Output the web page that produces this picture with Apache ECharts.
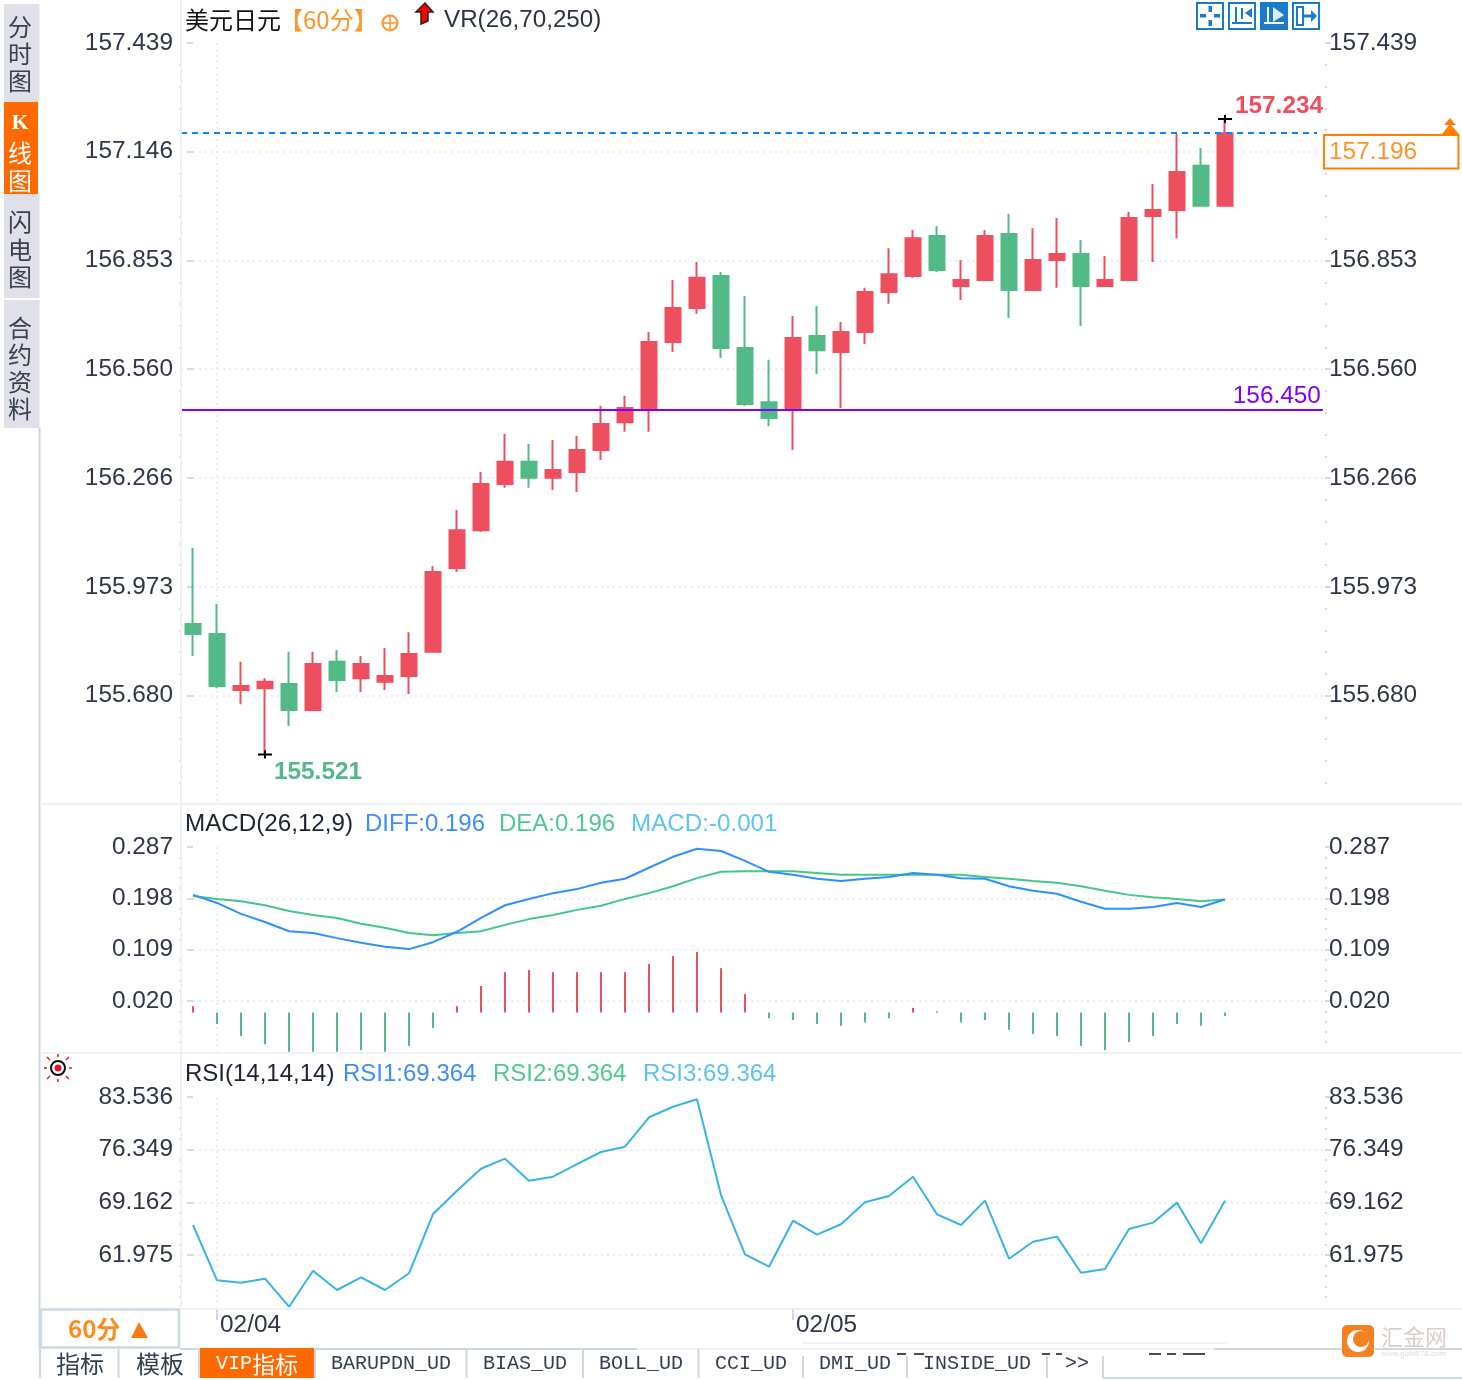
<!DOCTYPE html>
<html>
<head>
<meta charset="utf-8">
<title>美元日元 60分</title>
<style>
    html, body { margin: 0; padding: 0; background: #fff; }
    #main { width: 1462px; height: 1380px; }
</style>
<script src="https://cdn.jsdelivr.net/npm/echarts@6/dist/echarts.min.js"></script>
</head>
<body>
<div id="main"></div>
<script>
// K line, one row per hour
var opens = [155.873, 155.846, 155.695, 155.700, 155.711, 155.641, 155.771, 155.727, 155.717, 155.733, 155.798,
    156.024, 156.126, 156.250, 156.310, 156.267, 156.283, 156.342, 156.417, 156.455, 156.633, 156.725,
    156.811, 156.617, 156.471, 156.450, 156.649, 156.606, 156.660, 156.768, 156.811, 156.919, 156.784,
    156.800, 156.924, 156.773, 156.854, 156.870, 156.784, 156.800, 156.973, 156.989, 157.108, 157.000];
var closes = [155.846, 155.706, 155.706, 155.717, 155.641, 155.765, 155.722, 155.765, 155.733, 155.792, 156.013,
    156.126, 156.250, 156.310, 156.267, 156.288, 156.342, 156.412, 156.455, 156.633, 156.725, 156.806,
    156.617, 156.466, 156.428, 156.644, 156.611, 156.660, 156.768, 156.816, 156.913, 156.827, 156.800,
    156.919, 156.773, 156.854, 156.870, 156.784, 156.800, 156.967, 156.989, 157.091, 157.000, 157.196];
var lows = [155.787, 155.700, 155.657, 155.521, 155.598, 155.641, 155.690, 155.690, 155.695, 155.684, 155.798,
    156.013, 156.121, 156.240, 156.240, 156.234, 156.229, 156.315, 156.391, 156.391, 156.606, 156.709,
    156.590, 156.461, 156.407, 156.342, 156.547, 156.455, 156.628, 156.736, 156.806, 156.822, 156.746,
    156.800, 156.698, 156.773, 156.779, 156.676, 156.784, 156.800, 156.849, 156.913, 157.000, 157.000];
var highs = [156.078, 155.927, 155.771, 155.727, 155.798, 155.798, 155.803, 155.787, 155.808, 155.851, 156.029,
    156.180, 156.283, 156.385, 156.358, 156.369, 156.380, 156.461, 156.488, 156.660, 156.800, 156.849,
    156.822, 156.757, 156.585, 156.703, 156.730, 156.687, 156.779, 156.886, 156.935, 156.946, 156.854,
    156.935, 156.978, 156.940, 156.967, 156.908, 156.865, 156.984, 157.059, 157.194, 157.156, 157.234];

var diffValues = [.204, .190, .171, .157, .141, .138, .129, .121, .114, .110, .122, .140, .164, .186, .197, .207,
    .214, .225, .232, .251, .270, .284, .280, .263, .244, .239, .232, .228, .232, .235, .242, .239, .233, .232,
    .219, .211, .206, .192, .180, .180, .183, .190, .183, .196];
var deaValues = [.202, .197, .193, .186, .176, .169, .164, .154, .147, .138, .134, .138, .141, .152, .162, .169,
    .178, .185, .197, .207, .219, .233, .244, .245, .245, .245, .242, .239, .239, .239, .239, .239, .239, .235,
    .232, .228, .225, .219, .211, .204, .200, .197, .193, .196];
var macdValues = [.011, -.020, -.041, -.055, -.068, -.068, -.068, -.065, -.068, -.058, -.027, .011, .046, .070,
    .074, .070, .070, .070, .070, .084, .098, .105, .077, .032, -.010, -.013, -.020, -.023, -.017, -.010, .008,
    .002, -.017, -.013, -.030, -.037, -.041, -.058, -.065, -.051, -.041, -.020, -.023, -.006];
var rsiValues = [66.07, 58.52, 58.20, 58.74, 54.92, 59.83, 57.20, 58.93, 57.20, 59.48, 67.57, 70.75, 73.75, 75.12,
    72.11, 72.66, 74.39, 76.03, 76.75, 80.77, 82.21, 83.22, 70.16, 62.07, 60.38, 66.66, 64.75, 66.17, 69.17,
    70.03, 72.66, 67.53, 66.07, 69.39, 61.47, 63.79, 64.48, 59.56, 60.07, 65.53, 66.39, 69.12, 63.58, 69.364];

// tick labels
var priceTicks = [155.680, 155.973, 156.266, 156.560, 156.853, 157.146, 157.439];
var macdTicks = [0.020, 0.109, 0.198, 0.287];
var rsiTicks = [61.975, 69.162, 76.349, 83.536];
var dateTicks = [1, 25];
var dateLabels = ['02/04', '02/05'];

var lastPrice = 157.196;
var linePrice = 156.450;
var highPrice = 157.234;
var lowPrice = 155.521;

var RED = '#ee4f5f', GREEN = '#53b987', ORANGE = '#ff7f00';
var TICK_TEXT = '#2e3648', GRID_LINE = '#eaeef1', FRAME = '#ced8e0', PALE = '#eef2f5';
var SANS = '"Liberation Sans", Arial, sans-serif', CJK = '"Noto Sans CJK SC", sans-serif', MONO = '"Liberation Mono", monospace';
var SERIF = '"Liberation Serif", serif';

var XMIN = -0.5, XMAX = 47.1667;

function pairs(values) {
    return values.map(function (v, i) { return [i, v]; });
}

// small ticks, five to a step, down to the bottom of the pane
function minorTicks(ticks, min) {
    var step = (ticks[ticks.length - 1] - ticks[0]) / (ticks.length - 1), out = [];
    var n = Math.ceil((ticks[ticks.length - 1] - min) / (step / 5));
    for (var i = 1; i < n; i++) {
        if (i % 5 != 0) out.push(+(ticks[ticks.length - 1] - i * step / 5).toFixed(4));
    }
    return out.reverse();
}

function paneAxes(gridIndex, min, max, ticks) {
    function fmt(v) { return v.toFixed(3); }
    var label = function (align, margin) {
        return {
            customValues: ticks, formatter: fmt, color: TICK_TEXT, fontFamily: SANS, fontSize: 24.4,
            align: align, margin: margin, padding: [0, 0, 6, 0]
        };
    };
    var minor = minorTicks(ticks, min);
    var common = { type: 'value', gridIndex: gridIndex, min: min, max: max, axisLine: { show: false } };
    return [
        Object.assign({}, common, {
            position: 'left', axisLabel: label('right', 8),
            axisTick: { customValues: ticks, length: 6, lineStyle: { color: '#d3dae0', width: 2 } },
            splitLine: { showMaxLine: false, lineStyle: { color: GRID_LINE, width: 2, type: [2, 4] } }
        }),
        Object.assign({}, common, {
            position: 'right', axisLabel: label('left', 4),
            axisTick: { customValues: ticks, length: 6, lineStyle: { color: '#d3dae0', width: 2 } },
            splitLine: { show: false }
        }),
        Object.assign({}, common, {
            position: 'left', axisLabel: { show: false }, splitLine: { show: false },
            axisTick: { customValues: minor, length: 2, lineStyle: { color: '#d3dae0', width: 2 } }
        }),
        Object.assign({}, common, {
            position: 'right', axisLabel: { show: false }, splitLine: { show: false },
            axisTick: { customValues: minor, length: 2, lineStyle: { color: '#d3dae0', width: 2 } }
        })
    ];
}

function paneXAxis(gridIndex) {
    return {
        type: 'value', gridIndex: gridIndex, min: XMIN, max: XMAX, position: 'bottom',
        axisLine: { show: false }, axisLabel: { show: false },
        axisTick: { show: false, customValues: [1] },
        splitLine: { show: true, lineStyle: { color: GRID_LINE, width: 2, type: [2, 4] } }
    };
}

// the dashed line on the top tick of a pane
function topLine(value) {
    return {
        silent: true, symbol: 'none', label: { show: false }, animation: false,
        lineStyle: { color: GRID_LINE, width: 2, type: [6, 5] },
        data: [{ yAxis: value }]
    };
}

var yAxes = paneAxes(0, 155.3905, 157.439, priceTicks)
    .concat(paneAxes(1, -0.0684, 0.287, macdTicks))
    .concat(paneAxes(2, 54.743, 83.536, rsiTicks))
    .concat([{ type: 'value', gridIndex: 3, min: 0, max: 1, show: false }]);

var klineData = opens.map(function (o, i) { return [i, o, closes[i], lows[i], highs[i]]; });

var crossIcon = 'path://M0 3H14V5H0ZM6 0H8V8H6Z';

/* ---------- page furniture, drawn around the chart ---------- */
var shapes = [];

function text(x, y, s, size, color, font, align, weight) {
    shapes.push({
        type: 'text', z: 20, silent: true,
        style: {
            x: x, y: y, text: s, fill: color, font: (weight ? weight + ' ' : '') + size + 'px ' + (font || SANS),
            align: align || 'left', verticalAlign: 'middle'
        }
    });
}
function rect(x, y, w, h, fill, stroke, lw, z) {
    shapes.push({
        type: 'rect', z: z || 10, silent: true, shape: { x: x, y: y, width: w, height: h },
        style: { fill: fill || 'none', stroke: stroke || 'none', lineWidth: lw || 0 }
    });
}
function line(x1, y1, x2, y2, color, lw, z) {
    shapes.push({
        type: 'line', z: z || 10, silent: true, shape: { x1: x1, y1: y1, x2: x2, y2: y2 },
        style: { stroke: color, lineWidth: lw || 2 }
    });
}
function poly(points, fill, stroke, lw) {
    shapes.push({
        type: 'polygon', z: 21, silent: true, shape: { points: points },
        style: { fill: fill || 'none', stroke: stroke || 'none', lineWidth: lw || 0 }
    });
}

// frame
line(181, 0, 181, 1308, PALE, 2);
line(39.5, 427, 39.5, 1349, FRAME, 2);
line(40, 804, 1462, 804, PALE, 2);
line(40, 1053, 1462, 1053, PALE, 2);
line(181, 1309, 1462, 1309, PALE, 2);

// side tabs
function sideTab(y, h, chars, ys, active) {
    rect(4, y, active ? 34 : 35.5, h, active ? '#ff6a00' : '#dfe0e8');
    chars.forEach(function (c, i) {
        if (c == 'K') {
            text(20, ys[i], c, 22, '#fff', SERIF, 'center', 'bold');
        } else {
            text(20, ys[i], c, 24, active ? '#fff' : '#3a4050', CJK, 'center');
        }
    });
}
sideTab(4, 98, ['分', '时', '图'], [27, 54, 81], false);
sideTab(102, 92, ['K', '线', '图'], [123, 153, 181], true);
sideTab(194, 104, ['闪', '电', '图'], [222, 250, 277], false);
sideTab(300, 128, ['合', '约', '资', '料'], [328, 355, 382, 409], false);

// headers
text(185, 20, '美元日元', 24, '#111', CJK);
text(279, 20, '【60分】', 24, '#ff9428', CJK);
shapes.push({ type: 'circle', z: 20, silent: true, shape: { cx: 390, cy: 23, r: 7.5 }, style: { fill: 'none', stroke: '#ff9428', lineWidth: 2 } });
line(382, 23, 398, 23, '#ff9428', 1.5, 20);
line(390, 15, 390, 31, '#ff9428', 1.5, 20);
poly([[425, 3], [433, 12], [428, 12], [428, 21], [421, 24], [421, 12], [416, 12]], '#f00', '#222', 1.5);
text(444, 20, 'VR(26,70,250)', 24.2, '#2b3344');

text(185, 824, 'MACD(26,12,9)', 24.2, '#1c2333');
text(365, 824, 'DIFF:0.196', 24, '#3f8ef7');
text(499, 824, 'DEA:0.196', 24, '#4ec98f');
text(631, 824, 'MACD:-0.001', 24.2, '#5ec3f0');
text(185, 1074, 'RSI(14,14,14)', 24, '#1c2333');
text(343, 1074, 'RSI1:69.364', 24, '#3f8ef7');
text(493, 1074, 'RSI2:69.364', 24, '#4ec98f');
text(643, 1074, 'RSI3:69.364', 24, '#5ec3f0');

// toolbar
var BLUE = '#1a7cc9';
rect(1197, 3, 26, 26, '#fff', BLUE, 2);
rect(1208.5, 6, 3.5, 6, BLUE);
rect(1208.5, 20, 3.5, 6, BLUE);
rect(1200, 14, 6, 3.5, BLUE);
rect(1214, 14, 6, 3.5, BLUE);
rect(1229, 3, 26, 26, '#fff', BLUE, 2);
line(1236, 7, 1236, 24, BLUE, 2);
line(1232, 23, 1252, 23, BLUE, 2);
line(1242, 8, 1242, 19, BLUE, 2);
poly([[1252, 8], [1245, 13], [1252, 18]], BLUE);
rect(1261, 3, 26, 26, BLUE, BLUE, 2);
line(1268, 7, 1268, 24, '#fff', 2);
line(1264, 23, 1284, 23, '#fff', 2);
poly([[1273, 7], [1284, 15], [1273, 22]], '#dceefa');
rect(1293, 3, 26, 26, '#fff', BLUE, 2);
rect(1297, 7, 6, 18, '#fff', BLUE, 2);
line(1304, 16, 1312, 16, BLUE, 3);
poly([[1311, 10], [1317, 16], [1311, 22]], BLUE);

// current price box
rect(1324, 135, 134.5, 33.5, '#fff', ORANGE, 2);
text(1329, 152, lastPrice.toFixed(3), 24.4, '#ff9428');
poly([[1450, 118], [1456, 125], [1444, 125]], ORANGE);
poly([[1450, 124], [1459, 134], [1442, 134]], ORANGE);

// sun icon
shapes.push({ type: 'circle', z: 20, silent: true, shape: { cx: 58, cy: 1068, r: 7 }, style: { fill: '#fff', stroke: '#111', lineWidth: 2 } });
shapes.push({ type: 'circle', z: 21, silent: true, shape: { cx: 58, cy: 1068, r: 3.5 }, style: { fill: '#e8102a' } });
[[58, 1054, 58, 1057], [58, 1079, 58, 1082], [44, 1068, 47, 1068], [69, 1068, 72, 1068],
    [47, 1057, 50, 1060], [69, 1057, 66, 1060], [47, 1079, 50, 1076], [69, 1079, 66, 1076]].forEach(function (r) {
    line(r[0], r[1], r[2], r[3], '#e8102a', 1.5, 20);
});

// period box
rect(41, 1309.5, 138, 38, '#fff', FRAME, 2.5);
text(68, 1329, '60分', 24, '#ff8c1a', CJK, 'left', 'bold');
poly([[139, 1322], [148, 1338], [131, 1338]], '#ff7a0a');

// bottom tabs
line(180, 1349, 637, 1349, FRAME, 2);
line(637, 1349, 1214, 1349, PALE, 2);
line(1214, 1349, 1462, 1349, FRAME, 2);
line(802, 1343, 1228, 1343, PALE, 2);
rect(200, 1348, 114, 30, '#ff6a00');
[40, 118.5, 199, 315, 466.5, 583, 698.5].forEach(function (x) { line(x, 1349, x, 1378, FRAME, 2); });
[803, 907, 1047].forEach(function (x) { line(x, 1356, x, 1378, FRAME, 2); });
line(1103, 1356, 1103, 1378, FRAME, 2);
line(1103, 1378, 1462, 1378, FRAME, 2);
[[897, 906], [914, 924], [1042, 1050], [1056, 1062], [1149, 1161], [1167, 1176], [1183, 1205]].forEach(function (d) {
    line(d[0], 1354, d[1], 1354, '#444c5c', 2);
});
text(80, 1364, '指标', 24, '#333e50', CJK, 'center');
text(160, 1364, '模板', 24, '#333e50', CJK, 'center');
text(216, 1364, 'VIP', 20, '#fff', MONO);
text(252, 1364, '指标', 23, '#fff', CJK);
[['BARUPDN_UD', 331], ['BIAS_UD', 483], ['BOLL_UD', 599], ['CCI_UD', 715], ['DMI_UD', 819], ['INSIDE_UD', 923], ['>>', 1065]].forEach(function (t) {
    text(t[1], 1364, t[0], 20, '#333e50', MONO);
});

// logo
shapes.push({ type: 'rect', z: 20, silent: true, shape: { x: 1342, y: 1325, width: 32, height: 32, r: 5 }, style: { fill: '#f58220' } });
shapes.push({ type: 'circle', z: 21, silent: true, shape: { cx: 1358, cy: 1341, r: 11 }, style: { fill: '#fff' } });
shapes.push({ type: 'circle', z: 22, silent: true, shape: { cx: 1361, cy: 1339, r: 8 }, style: { fill: '#f58220' } });
text(1381, 1337, '汇金网', 22, '#d9cfc8', CJK);
text(1381, 1354, 'www.gold678.com', 8, '#e3dbd5');

/* ---------- chart ---------- */
var option = {
    animation: false,
    backgroundColor: '#fff',
    grid: [
        { left: 181, top: 43, width: 1144, height: 760 },
        { left: 181, top: 847, width: 1144, height: 205 },
        { left: 181, top: 1097, width: 1144, height: 211 },
        { left: 181, top: 1309, width: 1144, height: 38 }
    ],
    xAxis: [
        paneXAxis(0),
        paneXAxis(1),
        paneXAxis(2),
        {
            type: 'value', gridIndex: 3, min: XMIN, max: XMAX, position: 'top',
            axisLine: { show: false, onZero: false }, splitLine: { show: false },
            axisTick: { customValues: dateTicks, inside: true, length: 11, lineStyle: { color: FRAME, width: 2 } },
            axisLabel: {
                customValues: dateTicks, inside: true, align: 'left', margin: 4, verticalAlign: 'top',
                padding: [0, 0, 0, 3], color: TICK_TEXT, fontFamily: SANS, fontSize: 24.4,
                formatter: function (v) { return dateLabels[dateTicks.indexOf(v)]; }
            }
        }
    ],
    yAxis: yAxes,
    series: [
        {
            type: 'candlestick', xAxisIndex: 0, yAxisIndex: 0, barWidth: 16, data: klineData,
            itemStyle: { color: RED, color0: GREEN, borderColor: RED, borderColor0: GREEN, borderWidth: 2 },
            markLine: {
                silent: true, symbol: 'none', animation: false,
                data: [
                    { yAxis: 157.439, lineStyle: { color: GRID_LINE, width: 2, type: [6, 5] }, label: { show: false } },
                    [
                        { coord: [XMIN, lastPrice], lineStyle: { color: '#0a84ff', width: 2, type: [6, 5] }, label: { show: false } },
                        { coord: [46.83, lastPrice] }
                    ],
                    [
                        {
                            coord: [XMIN, linePrice], value: linePrice, lineStyle: { color: '#8000ff', width: 2, type: 'solid' },
                            label: {
                                show: true, position: 'insideEndTop', distance: [2, 2], color: '#8000ff',
                                fontFamily: SANS, fontSize: 24.4, formatter: linePrice.toFixed(3)
                            }
                        },
                        { coord: [47.08, linePrice] }
                    ]
                ]
            },
            markPoint: {
                silent: true, animation: false, symbol: crossIcon, symbolSize: [14, 8],
                itemStyle: { color: '#000' },
                data: [
                    {
                        coord: [43, highPrice], value: highPrice.toFixed(3),
                        label: { position: 'inside', offset: [54, -13], color: RED, fontFamily: SANS, fontSize: 24.4, fontWeight: 'bold' }
                    },
                    {
                        coord: [3, lowPrice], value: lowPrice.toFixed(3),
                        label: { position: 'inside', offset: [53, 18], color: GREEN, fontFamily: SANS, fontSize: 24.4, fontWeight: 'bold' }
                    }
                ]
            }
        },
        {
            type: 'bar', name: 'MACD', xAxisIndex: 1, yAxisIndex: 4, barWidth: 2, data: pairs(macdValues),
            itemStyle: { color: function (p) { return p.value[1] >= 0 ? RED : GREEN; } },
            markLine: topLine(0.287)
        },
        {
            type: 'line', name: 'DEA', xAxisIndex: 1, yAxisIndex: 4, showSymbol: false, data: pairs(deaValues),
            lineStyle: { color: '#43c78a', width: 2 }
        },
        {
            type: 'line', name: 'DIFF', xAxisIndex: 1, yAxisIndex: 4, showSymbol: false, data: pairs(diffValues),
            lineStyle: { color: '#2f8fff', width: 2 }
        },
        {
            type: 'line', name: 'RSI', xAxisIndex: 2, yAxisIndex: 8, showSymbol: false, data: pairs(rsiValues),
            lineStyle: { color: '#38b3e6', width: 2 },
            markLine: topLine(83.536)
        }
    ],
    graphic: { elements: shapes }
};

var chart = echarts.init(document.getElementById('main'), null, { renderer: 'canvas' });
chart.setOption(option);
</script>
</body>
</html>
